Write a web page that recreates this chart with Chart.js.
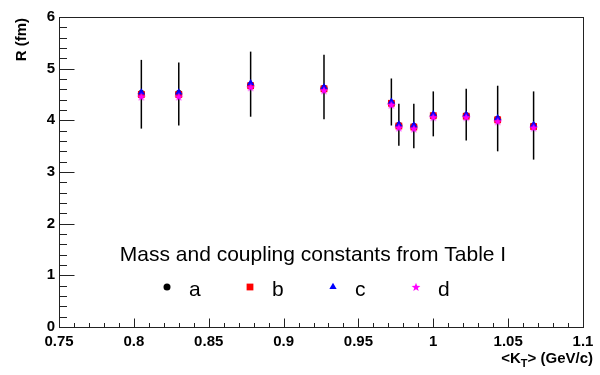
<!DOCTYPE html>
<html>
<head>
<meta charset="utf-8">
<script src="https://cdn.jsdelivr.net/npm/chart.js@4.4.0/dist/chart.umd.min.js"></script>
<style>
  html, body { margin: 0; padding: 0; background: #fff; }
</style>
</head>
<body>
<canvas id="myChart" width="600" height="375"></canvas>
<script>
// values
var kt    = [0.805, 0.830, 0.878, 0.927, 0.972, 0.977, 0.987, 1.000, 1.022, 1.043, 1.067];
var rA    = [4.52, 4.52, 4.68, 4.62, 4.33, 3.90, 3.88, 4.09, 4.09, 4.02, 3.89];
var rB    = [4.50, 4.50, 4.67, 4.61, 4.33, 3.89, 3.87, 4.09, 4.08, 4.01, 3.88];
var rC    = [4.54, 4.54, 4.72, 4.64, 4.36, 3.92, 3.90, 4.12, 4.11, 4.04, 3.91];
var rD    = [4.46, 4.46, 4.64, 4.58, 4.30, 3.86, 3.84, 4.06, 4.06, 3.98, 3.86];
var rHigh = [5.17, 5.12, 5.33, 5.27, 4.81, 4.32, 4.32, 4.56, 4.61, 4.67, 4.56];
var rLow  = [3.84, 3.90, 4.07, 4.02, 3.90, 3.51, 3.46, 3.69, 3.61, 3.40, 3.24];

var xTicks = [0.75, 0.8, 0.85, 0.9, 0.95, 1, 1.05, 1.1];
var yTicks = [0, 1, 2, 3, 4, 5, 6];
var seriesNames = ['a', 'b', 'c', 'd'];
var legendTitle = 'Mass and coupling constants from Table I';

var FONT = "'Liberation Sans', Arial, Helvetica, sans-serif";

// filled 5 point star (ROOT marker 29)
function makeStar(color) {
  var c = document.createElement('canvas');
  c.width = 10; c.height = 10;
  var g = c.getContext('2d');
  g.fillStyle = color;
  g.beginPath();
  for (var i = 0; i < 10; i++) {
    var r = i % 2 === 0 ? 4.6 : 1.9;
    var a = -Math.PI / 2 + i * Math.PI / 5;
    g.lineTo(5 + r * Math.cos(a), 5.3 + r * Math.sin(a));
  }
  g.closePath();
  g.fill();
  return c;
}

function pts(ys) {
  return kt.map(function (x, i) { return { x: x, y: ys[i] }; });
}

// error bars, drawn under the markers
var errorBars = {
  id: 'errorBars',
  beforeDatasetsDraw: function (chart) {
    var ctx = chart.ctx, xs = chart.scales.x, ys = chart.scales.y;
    ctx.save();
    ctx.strokeStyle = '#000';
    ctx.lineWidth = 1.5;
    for (var i = 0; i < kt.length; i++) {
      var px = xs.getPixelForValue(kt[i]);
      ctx.beginPath();
      ctx.moveTo(px, ys.getPixelForValue(rLow[i]));
      ctx.lineTo(px, ys.getPixelForValue(rHigh[i]));
      ctx.stroke();
    }
    ctx.restore();
  }
};

// ROOT style frame, inward ticks, axis titles and legend
var rootFrame = {
  id: 'rootFrame',
  afterDraw: function (chart) {
    var ctx = chart.ctx, a = chart.chartArea;
    var xs = chart.scales.x, ys = chart.scales.y;
    ctx.save();
    ctx.strokeStyle = '#222';
    ctx.lineWidth = 1;
    ctx.strokeRect(Math.round(a.left) + 0.5, Math.round(a.top) + 0.5,
                   Math.round(a.right - a.left), Math.round(a.bottom - a.top));

    ctx.beginPath();
    var bottom = Math.round(a.bottom) + 0.5, left = Math.round(a.left) + 0.5;
    for (var k = 0; k <= 35; k++) {
      var v = 0.75 + k * 0.01;
      var px = Math.round(xs.getPixelForValue(v)) + 0.5;
      var len = k % 5 === 0 ? 9 : 4.5;
      ctx.moveTo(px, bottom);
      ctx.lineTo(px, bottom - len);
    }
    for (var j = 0; j <= 30; j++) {
      var py = Math.round(ys.getPixelForValue(j * 0.2)) + 0.5;
      var l2 = j % 5 === 0 ? 15 : 7.5;
      ctx.moveTo(left, py);
      ctx.lineTo(left + l2, py);
    }
    ctx.stroke();

    // y title
    ctx.fillStyle = '#000';
    ctx.font = 'bold 15px ' + FONT;
    ctx.save();
    ctx.translate(22, a.top + 1);
    ctx.rotate(-Math.PI / 2);
    ctx.textAlign = 'right';
    ctx.textBaseline = 'middle';
    ctx.fillText('R (fm)', 0, 0);
    ctx.restore();

    // x title <K_T> (GeV/c), right aligned
    var bigF = 'bold 15px ' + FONT, subF = 'bold 11px ' + FONT;
    ctx.font = bigF;
    var w1 = ctx.measureText('<K').width, w3 = ctx.measureText('> (GeV/c)').width;
    ctx.font = subF;
    var w2 = ctx.measureText('T').width;
    var xEnd = a.right + 10, base = 363;
    var x0 = xEnd - (w1 + w2 + w3);
    ctx.textAlign = 'left';
    ctx.textBaseline = 'alphabetic';
    ctx.font = bigF;
    ctx.fillText('<K', x0, base);
    ctx.font = subF;
    ctx.fillText('T', x0 + w1, base + 4);
    ctx.font = bigF;
    ctx.fillText('> (GeV/c)', x0 + w1 + w2, base);

    // legend
    ctx.font = '21px ' + FONT;
    ctx.textAlign = 'center';
    ctx.fillText(legendTitle, 313, 261);
    ctx.textAlign = 'left';
    chart.data.datasets.forEach(function (ds, i) {
      var mx = 167 + i * 83;
      ctx.fillStyle = ds.backgroundColor;
      ctx.strokeStyle = ds.backgroundColor;
      ctx.lineWidth = 0;
      Chart.helpers.drawPoint(ctx, {
        pointStyle: ds.pointStyle, radius: ds.pointRadius, rotation: 0,
        borderWidth: 0
      }, mx, 287);
      ctx.fillStyle = '#000';
      ctx.fillText(ds.label, mx + 22, 296);
    });
    ctx.restore();
  }
};

var ctx = document.getElementById('myChart').getContext('2d');

function marker(label, data, color, style, radius, order) {
  return {
    label: label,
    data: data,
    backgroundColor: color,
    borderColor: color,
    borderWidth: 0,
    pointStyle: style,
    pointRadius: radius,
    pointHoverRadius: radius,
    order: order
  };
}

var myChart = new Chart(ctx, {
  type: 'scatter',
  data: {
    datasets: [
      marker(seriesNames[0], pts(rA), '#000000', 'circle', 3.5, 4),
      marker(seriesNames[1], pts(rB), '#ff0000', 'rect', 4.8, 3),
      marker(seriesNames[2], pts(rC), '#0000ff', 'triangle', 4.2, 2),
      marker(seriesNames[3], pts(rD), '#ff00ff', makeStar('#ff00ff'), 4, 1)
    ]
  },
  options: {
    responsive: false,
    animation: false,
    devicePixelRatio: 1,
    layout: { padding: { top: 17, right: 17, left: 0, bottom: 0 } },
    plugins: { legend: { display: false }, tooltip: { enabled: false } },
    scales: {
      x: {
        type: 'linear',
        min: 0.75, max: 1.1,
        afterBuildTicks: function (s) { s.ticks = xTicks.map(function (v) { return { value: v }; }); },
        afterFit: function (s) { s.height = 48; },
        grid: { display: false, drawTicks: false },
        border: { display: false },
        ticks: {
          autoSkip: false, maxRotation: 0, padding: 6, color: '#000',
          font: { family: FONT, size: 15, weight: 'bold' },
          callback: function (v) { return String(v); }
        }
      },
      y: {
        min: 0, max: 6,
        afterBuildTicks: function (s) { s.ticks = yTicks.map(function (v) { return { value: v }; }); },
        afterFit: function (s) { s.width = 59; },
        grid: { display: false, drawTicks: false },
        border: { display: false },
        ticks: {
          padding: 4, color: '#000',
          font: { family: FONT, size: 15, weight: 'bold' },
          callback: function (v) { return String(v); }
        }
      }
    }
  },
  plugins: [errorBars, rootFrame]
});
</script>
</body>
</html>
